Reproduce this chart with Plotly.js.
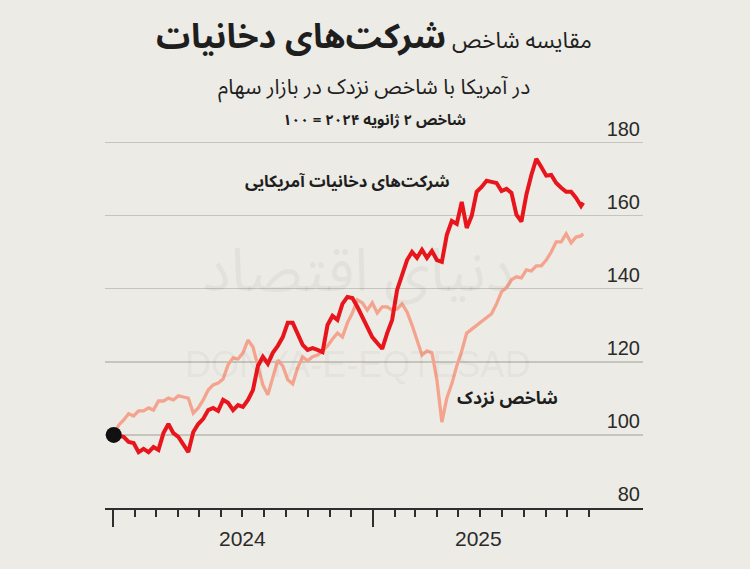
<!DOCTYPE html>
<html>
<head>
<meta charset="utf-8">
<script src="https://cdn.plot.ly/plotly-3.0.1.min.js"></script>
<style>
  html, body { margin: 0; padding: 0; background: #ecebe5; }
  #chart { width: 750px; height: 569px; }
</style>
</head>
<body>
<div id="chart"></div>
<script>
// ---- Data (index, 2 Jan 2024 = 100) ----
const dates = [
  '2024-01-02','2024-01-09','2024-01-16','2024-01-23','2024-01-30',
  '2024-02-06','2024-02-13','2024-02-20','2024-02-27',
  '2024-03-05','2024-03-12','2024-03-19','2024-03-26',
  '2024-04-02','2024-04-09','2024-04-16','2024-04-23','2024-04-30',
  '2024-05-07','2024-05-14','2024-05-21','2024-05-28',
  '2024-06-04','2024-06-11','2024-06-18','2024-06-25',
  '2024-07-02','2024-07-09','2024-07-16','2024-07-23','2024-07-30',
  '2024-08-06','2024-08-13','2024-08-20','2024-08-27',
  '2024-09-03','2024-09-10','2024-09-17','2024-09-24',
  '2024-10-01','2024-10-08','2024-10-15','2024-10-22','2024-10-29',
  '2024-11-05','2024-11-12','2024-11-19','2024-11-26',
  '2024-12-03','2024-12-10','2024-12-17','2024-12-24','2024-12-31',
  '2025-01-07','2025-01-14','2025-01-21','2025-01-28',
  '2025-02-04','2025-02-11','2025-02-18','2025-02-25',
  '2025-03-04','2025-03-11','2025-03-18','2025-03-25',
  '2025-04-01','2025-04-08','2025-04-15','2025-04-22','2025-04-29',
  '2025-05-06','2025-05-13','2025-05-20','2025-05-27',
  '2025-06-03','2025-06-10','2025-06-17','2025-06-24',
  '2025-07-01','2025-07-08','2025-07-15','2025-07-22','2025-07-29',
  '2025-08-05','2025-08-12','2025-08-19','2025-08-26',
  '2025-09-02','2025-09-09','2025-09-16','2025-09-23','2025-09-30',
  '2025-10-07','2025-10-14','2025-10-21','2025-10-24'
];

const tobacco = [
  100, 99.7, 99.5, 98.1, 97.8, 95.3, 96.2, 95.3, 96.7, 95.9,
  100.5, 103.0, 100.5, 99.5, 97.5, 95.3, 100.8, 103.0, 104.4, 106.8,
  107.4, 106.6, 109.6, 108.8, 106.8, 108.2, 107.7, 109.6, 112.3, 118.9,
  121.4, 119.5, 122.5, 124.4, 126.8, 130.7, 130.7, 127.7, 124.7, 123.3,
  123.8, 123.3, 122.7, 130.1, 132.6, 131.5, 135.9, 137.8, 137.5, 135.1,
  132.3, 129.3, 126.8, 125.2, 123.6, 127.9, 131.5, 139.7, 143.8, 147.9,
  150.1, 148.5, 150.7, 148.5, 150.4, 147.9, 147.4, 154.8, 158.6, 157.8,
  163.8, 156.7, 160.0, 166.6, 167.9, 169.6, 169.3, 169.0, 166.8, 167.4,
  166.3, 160.3, 158.4, 165.8, 171.2, 175.6, 173.4, 171.0, 171.2, 169.0,
  167.7, 166.6, 166.6, 164.9, 162.7, 163.6
];

const nasdaq = [
  100, 102.7, 104.1, 105.8, 105.2, 106.6, 106.6, 107.4, 106.8, 109.3,
  109.3, 110.1, 109.6, 110.7, 110.4, 110.1, 106.0, 107.4, 109.6, 112.3,
  113.7, 114.2, 115.3, 119.2, 121.1, 120.8, 122.5, 126.0, 124.1, 119.2,
  113.7, 111.0, 115.9, 120.5, 118.9, 115.1, 114.0, 118.4, 121.4, 120.3,
  121.4, 121.9, 123.0, 124.4, 126.3, 127.9, 126.8, 130.7, 133.4, 137.0,
  136.2, 134.2, 136.2, 133.4, 135.1, 135.1, 134.2, 134.5, 135.9, 133.7,
  130.1, 126.0, 121.9, 123.0, 122.5, 115.1, 103.5, 110.1, 114.0, 118.9,
  123.0, 127.9, 129.0, 130.1, 131.2, 132.3, 133.2, 135.9, 139.2, 140.3,
  142.5, 143.3, 143.0, 145.2, 144.9, 146.3, 146.3, 147.9, 150.1, 152.9,
  152.9, 155.1, 152.6, 154.2, 154.5, 155.1
];

const baseDate = '2024-01-02';
const baseValue = 100;

const yTicks = [80, 100, 120, 140, 160, 180];
const yearTicks = ['2024-01-01', '2025-01-01'];
const monthTicks = [
  '2024-02-01','2024-03-01','2024-04-01','2024-05-01','2024-06-01','2024-07-01',
  '2024-08-01','2024-09-01','2024-10-01','2024-11-01','2024-12-01',
  '2025-02-01','2025-03-01','2025-04-01','2025-05-01','2025-06-01','2025-07-01',
  '2025-08-01','2025-09-01','2025-10-01','2025-11-01'
];
const yearLabels = ['2024', '2025'];
const yearLabelDates = ['2024-07-02', '2025-05-29'];

const xRange = ['2023-12-20 17:00', '2026-01-16 05:00'];
const yRange = [80, 192];

const FA = '"Noto Sans Arabic", "Vazirmatn", "DejaVu Sans", sans-serif';
const NUM = '"Liberation Sans", Arial, Helvetica, sans-serif';
const INK = '#1e1e1e';

// plot area in pixels: top 99, bottom 508 (3.65 px per index point)
const PT = 99, PB = 508, PH = PB - PT;
const py = (px) => (PB - px) / PH;

const traces = [
  {
    x: dates, y: nasdaq, type: 'scatter', mode: 'lines',
    line: { color: '#f4a48e', width: 3.3 }, hoverinfo: 'skip'
  },
  {
    x: dates, y: tobacco, type: 'scatter', mode: 'lines',
    line: { color: '#e8161c', width: 4 }, hoverinfo: 'skip'
  },
  {
    x: [baseDate], y: [baseValue], type: 'scatter', mode: 'markers',
    marker: { color: '#111111', size: 16 }, hoverinfo: 'skip'
  }
];

const annotations = [
  // faint watermark
  {
    xref: 'paper', yref: 'paper', x: 0.47, y: py(272), yanchor: 'middle', showarrow: false,
    text: 'دنیای اقتصاد', font: { family: FA, size: 60, color: 'rgba(0,0,0,0.04)' }
  },
  {
    xref: 'paper', yref: 'paper', x: 0.47, y: py(364), yanchor: 'middle', showarrow: false,
    text: 'DONYA-E-EQTESAD', font: { family: NUM, size: 36, color: 'rgba(0,0,0,0.05)' }
  },
  // subtitle lines
  {
    xref: 'paper', yref: 'paper', x: 0.5, y: py(87), yanchor: 'middle',
    showarrow: false, text: 'در آمریکا با شاخص نزدک در بازار سهام',
    font: { family: FA, size: 21, color: INK }
  },
  {
    xref: 'paper', yref: 'paper', x: 0.5, y: py(120), yanchor: 'middle',
    showarrow: false, text: '<b>شاخص ۲ ژانویه ۲۰۲۴ = ۱۰۰</b>',
    font: { family: FA, size: 15, color: INK }
  },
  // series labels
  {
    xref: 'x', yref: 'y', x: '2025-04-22', y: 169.3, xanchor: 'right', yanchor: 'middle',
    showarrow: false, text: '<b>شرکت‌های دخانیات آمریکایی</b>',
    font: { family: FA, size: 16.5, color: INK }
  },
  {
    xref: 'x', yref: 'y', x: '2025-09-21', y: 110.0, xanchor: 'right', yanchor: 'middle',
    showarrow: false, text: '<b>شاخص نزدک</b>',
    font: { family: FA, size: 17.5, color: INK }
  }
];

yearLabels.forEach((t, i) => annotations.push({
  xref: 'x', yref: 'paper', x: yearLabelDates[i], y: py(538),
  yanchor: 'middle', showarrow: false, text: t,
  font: { family: NUM, size: 21, color: '#2a2a2a' }
}));

const layout = {
  width: 750, height: 569,
  margin: { l: 105, r: 107, t: PT, b: 569 - PB, pad: 0 },
  paper_bgcolor: '#ecebe5', plot_bgcolor: 'rgba(0,0,0,0)',
  showlegend: false,
  title: {
    text: 'مقایسه شاخص <b><span style="font-size:34px">شرکت‌های دخانیات</span></b>',
    xref: 'paper', x: 0.5, xanchor: 'center',
    yref: 'container', y: 1 - 40 / 569, yanchor: 'middle',
    font: { family: FA, size: 22.5, color: INK }
  },
  xaxis: {
    type: 'date', range: xRange, fixedrange: true,
    showgrid: false, zeroline: false,
    showline: true, linecolor: '#2e2e2e', linewidth: 1.5,
    tickmode: 'array', tickvals: yearTicks, ticktext: ['', ''],
    ticks: 'outside', ticklen: 17, tickwidth: 2, tickcolor: '#2e2e2e',
    showticklabels: false,
    minor: {
      tickmode: 'array', tickvals: monthTicks,
      ticks: 'outside', ticklen: 7, tickwidth: 2, tickcolor: '#2e2e2e', showgrid: false
    }
  },
  yaxis: {
    range: yRange, fixedrange: true, side: 'right',
    tickmode: 'array', tickvals: yTicks,
    ticks: '', ticklabelposition: 'inside top',
    showgrid: true, gridcolor: '#c6c5bd', gridwidth: 1.2,
    zeroline: false, showline: false,
    tickfont: { family: NUM, size: 20, color: '#2a2a2a' }
  },
  shapes: [
    {
      type: 'line', xref: 'x', yref: 'y', layer: 'below',
      x0: baseDate, x1: xRange[1], y0: baseValue, y1: baseValue,
      line: { color: '#1a1a1a', width: 1.6 }
    }
  ],
  annotations: annotations
};

Plotly.newPlot('chart', traces, layout, { staticPlot: true, displayModeBar: false });
</script>
</body>
</html>
